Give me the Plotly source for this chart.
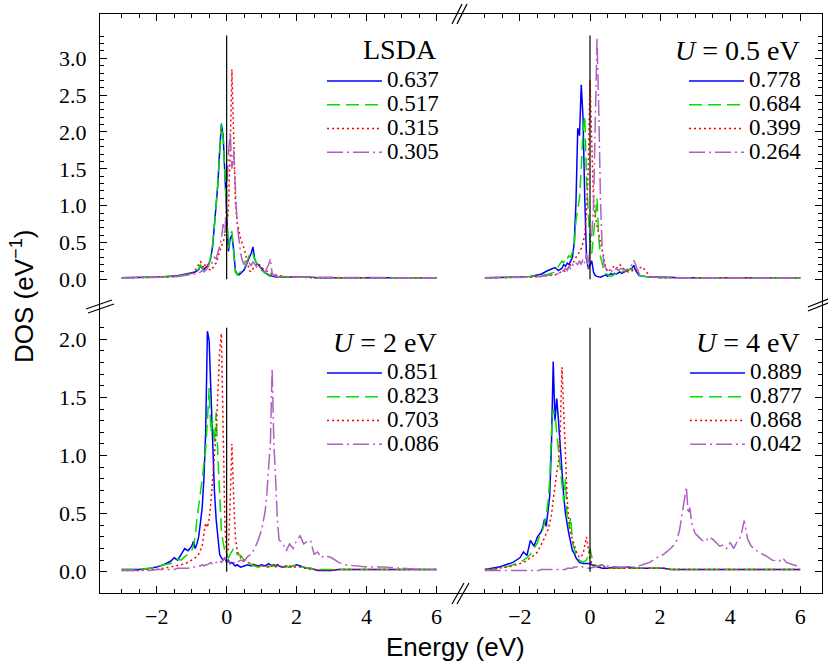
import plotly.graph_objects as go

# ---------------- data ----------------
# energy grid for the two upper panels (eV)
E_TOP = [-3.0, -2.5, -2.0, -1.7, -1.4, -1.2, -1.0, -0.9, -0.8, -0.75,
         -0.7, -0.65, -0.6, -0.55, -0.5, -0.45, -0.4, -0.35, -0.3, -0.25,
         -0.2, -0.15, -0.1, -0.05, 0.0, 0.05, 0.1, 0.15, 0.2, 0.25,
         0.3, 0.35, 0.4, 0.45, 0.5, 0.55, 0.6, 0.65, 0.7, 0.75,
         0.8, 0.85, 0.9, 1.0, 1.1, 1.2, 1.25, 1.3, 1.4, 1.5,
         1.7, 2.0, 2.3, 2.6, 3.0, 3.5, 4.0, 4.5, 5.0, 5.5,
         6.0]

LSDA_LABELS = ["0.637", "0.517", "0.315", "0.305"]
LSDA_1 = [0.02, 0.02, 0.03, 0.04, 0.05, 0.07, 0.09, 0.10, 0.13, 0.19,
          0.15, 0.13, 0.16, 0.18, 0.22, 0.30, 0.45, 0.70, 0.98, 1.30,
          1.75, 2.10, 1.95, 1.48, 1.00, 0.38, 0.55, 0.60, 0.40, 0.12,
          0.07, 0.06, 0.08, 0.10, 0.13, 0.18, 0.25, 0.30, 0.35, 0.44,
          0.28, 0.22, 0.20, 0.14, 0.09, 0.06, 0.05, 0.04, 0.03, 0.03,
          0.03, 0.04, 0.03, 0.02, 0.02, 0.02, 0.02, 0.02, 0.02, 0.02,
          0.02]
LSDA_2 = [0.02, 0.02, 0.03, 0.04, 0.05, 0.06, 0.08, 0.10, 0.14, 0.20,
          0.16, 0.13, 0.15, 0.17, 0.22, 0.32, 0.48, 0.72, 1.00, 1.32,
          1.78, 2.12, 1.90, 1.45, 0.95, 0.42, 0.60, 0.65, 0.38, 0.10,
          0.06, 0.08, 0.10, 0.12, 0.15, 0.20, 0.28, 0.33, 0.30, 0.35,
          0.27, 0.22, 0.18, 0.12, 0.08, 0.05, 0.04, 0.04, 0.03, 0.03,
          0.03, 0.04, 0.03, 0.02, 0.02, 0.02, 0.02, 0.02, 0.02, 0.02,
          0.02]
LSDA_3 = [0.02, 0.02, 0.02, 0.03, 0.04, 0.06, 0.08, 0.12, 0.20, 0.24,
          0.20, 0.15, 0.22, 0.20, 0.14, 0.12, 0.15, 0.20, 0.22, 0.30,
          0.38, 0.45, 0.50, 0.60, 0.70, 0.95, 1.70, 2.85, 1.90, 1.05,
          0.78, 0.65, 0.55, 0.48, 0.42, 0.32, 0.20, 0.12, 0.10, 0.15,
          0.18, 0.20, 0.22, 0.16, 0.12, 0.10, 0.08, 0.07, 0.06, 0.05,
          0.03, 0.03, 0.02, 0.02, 0.02, 0.02, 0.02, 0.02, 0.02, 0.02,
          0.02]
LSDA_4 = [0.02, 0.02, 0.02, 0.03, 0.04, 0.05, 0.06, 0.07, 0.08, 0.10,
          0.12, 0.10, 0.12, 0.15, 0.20, 0.18, 0.25, 0.30, 0.28, 0.35,
          0.45, 0.55, 0.75, 0.60, 1.20, 1.70, 2.00, 1.50, 1.75, 1.20,
          0.75, 0.55, 0.35, 0.25, 0.20, 0.28, 0.20, 0.22, 0.18, 0.24,
          0.20, 0.17, 0.20, 0.12, 0.10, 0.20, 0.28, 0.08, 0.04, 0.03,
          0.03, 0.03, 0.02, 0.02, 0.02, 0.02, 0.02, 0.02, 0.02, 0.02,
          0.02]

U05_LABELS = ["0.778", "0.684", "0.399", "0.264"]
U05_1 = [0.02, 0.02, 0.03, 0.04, 0.07, 0.12, 0.16, 0.12, 0.15, 0.20,
         0.18, 0.22, 0.20, 0.25, 0.30, 0.50, 1.05, 2.05, 1.95, 2.64,
         2.20, 1.10, 0.30, 0.14, 0.20, 0.25, 0.10, 0.05, 0.04, 0.03,
         0.03, 0.04, 0.05, 0.06, 0.04, 0.06, 0.08, 0.06, 0.08, 0.07,
         0.09, 0.10, 0.08, 0.10, 0.12, 0.15, 0.19, 0.12, 0.05, 0.04,
         0.03, 0.03, 0.02, 0.02, 0.02, 0.02, 0.02, 0.02, 0.02, 0.02,
         0.02]
U05_2 = [0.02, 0.02, 0.03, 0.04, 0.05, 0.07, 0.10, 0.18, 0.25, 0.22,
         0.30, 0.28, 0.32, 0.30, 0.38, 0.45, 0.80, 0.95, 1.10, 1.50,
         2.00, 2.22, 1.35, 0.90, 0.50, 0.35, 0.60, 0.90, 1.10, 0.55,
         0.30, 0.22, 0.10, 0.08, 0.06, 0.05, 0.04, 0.05, 0.06, 0.08,
         0.10, 0.12, 0.10, 0.12, 0.13, 0.14, 0.12, 0.10, 0.06, 0.04,
         0.03, 0.02, 0.02, 0.02, 0.02, 0.02, 0.02, 0.02, 0.02, 0.02,
         0.02]
U05_3 = [0.02, 0.02, 0.02, 0.03, 0.04, 0.05, 0.06, 0.08, 0.10, 0.12,
         0.10, 0.14, 0.15, 0.20, 0.22, 0.25, 0.30, 0.32, 0.38, 0.42,
         0.50, 0.60, 0.90, 1.50, 2.70, 1.70, 1.05, 0.85, 0.72, 0.60,
         0.50, 0.40, 0.28, 0.15, 0.10, 0.12, 0.14, 0.16, 0.18, 0.15,
         0.18, 0.20, 0.18, 0.12, 0.10, 0.12, 0.10, 0.12, 0.15, 0.17,
         0.04, 0.02, 0.02, 0.02, 0.02, 0.02, 0.02, 0.02, 0.02, 0.02,
         0.02]
U05_4 = [0.02, 0.02, 0.02, 0.03, 0.04, 0.05, 0.07, 0.08, 0.10, 0.12,
         0.15, 0.12, 0.18, 0.14, 0.20, 0.18, 0.22, 0.20, 0.25, 0.20,
         0.28, 0.22, 0.35, 0.15, 0.45, 0.60, 1.00, 2.20, 3.27, 2.30,
         1.04, 0.40, 0.20, 0.15, 0.12, 0.10, 0.12, 0.10, 0.12, 0.15,
         0.12, 0.14, 0.15, 0.12, 0.15, 0.20, 0.26, 0.20, 0.08, 0.05,
         0.03, 0.03, 0.02, 0.02, 0.02, 0.02, 0.02, 0.02, 0.02, 0.02,
         0.02]

# energy grid for U = 2 eV
E_U2 = [-3.0, -2.5, -2.2, -2.0, -1.8, -1.6, -1.5, -1.4, -1.3, -1.2,
        -1.1, -1.0, -0.95, -0.9, -0.85, -0.8, -0.75, -0.7, -0.65, -0.6,
        -0.55, -0.5, -0.45, -0.4, -0.35, -0.3, -0.25, -0.2, -0.15, -0.1,
        -0.05, 0.0, 0.05, 0.1, 0.15, 0.2, 0.25, 0.3, 0.4, 0.5,
        0.6, 0.7, 0.8, 0.9, 1.0, 1.1, 1.15, 1.2, 1.25, 1.3,
        1.35, 1.4, 1.45, 1.5, 1.6, 1.7, 1.8, 1.9, 2.0, 2.1,
        2.2, 2.3, 2.4, 2.5, 2.6, 2.7, 2.8, 3.0, 3.2, 3.4,
        3.7, 4.0, 4.5, 5.0, 5.5, 6.0]
U2_LABELS = ["0.851", "0.823", "0.703", "0.086"]
U2_1 = [0.02, 0.02, 0.03, 0.04, 0.06, 0.09, 0.12, 0.10, 0.15, 0.20,
        0.18, 0.22, 0.26, 0.20, 0.24, 0.30, 0.42, 0.55, 0.80, 1.20,
        2.07, 1.99, 1.55, 1.10, 0.70, 0.45, 0.30, 0.15, 0.12, 0.10,
        0.12, 0.08, 0.10, 0.07, 0.08, 0.06, 0.05, 0.06, 0.04, 0.05,
        0.06, 0.05, 0.06, 0.05, 0.06, 0.05, 0.06, 0.07, 0.06, 0.05,
        0.06, 0.05, 0.06, 0.05, 0.04, 0.05, 0.04, 0.05, 0.06, 0.05,
        0.04, 0.03, 0.03, 0.02, 0.01, 0.01, 0.01, 0.01, 0.02, 0.02,
        0.02, 0.02, 0.02, 0.02, 0.02, 0.02]
U2_2 = [0.02, 0.02, 0.03, 0.04, 0.06, 0.07, 0.09, 0.11, 0.10, 0.13,
        0.15, 0.18, 0.22, 0.30, 0.45, 0.55, 0.68, 0.80, 0.92, 1.05,
        1.30, 1.58, 1.20, 1.30, 1.10, 1.37, 1.00, 0.65, 0.35, 0.25,
        0.18, 0.15, 0.12, 0.15, 0.18, 0.20, 0.20, 0.15, 0.14, 0.10,
        0.10, 0.06, 0.05, 0.04, 0.05, 0.04, 0.05, 0.04, 0.05, 0.06,
        0.05, 0.04, 0.05, 0.04, 0.04, 0.05, 0.04, 0.05, 0.06, 0.05,
        0.04, 0.03, 0.03, 0.02, 0.02, 0.02, 0.02, 0.02, 0.02, 0.02,
        0.02, 0.02, 0.02, 0.02, 0.02, 0.02]
U2_3 = [0.01, 0.01, 0.02, 0.02, 0.03, 0.04, 0.05, 0.05, 0.06, 0.07,
        0.08, 0.10, 0.11, 0.12, 0.13, 0.15, 0.18, 0.22, 0.33, 0.42,
        0.38, 0.45, 0.60, 0.80, 1.00, 1.20, 1.55, 1.90, 2.05, 1.00,
        0.40, 0.14, 0.20, 0.60, 1.10, 0.65, 0.30, 0.18, 0.12, 0.10,
        0.08, 0.07, 0.06, 0.05, 0.05, 0.05, 0.04, 0.05, 0.04, 0.05,
        0.04, 0.05, 0.04, 0.04, 0.05, 0.04, 0.05, 0.04, 0.04, 0.04,
        0.03, 0.03, 0.02, 0.02, 0.02, 0.01, 0.01, 0.01, 0.02, 0.02,
        0.02, 0.02, 0.02, 0.02, 0.02, 0.02]
U2_4 = [0.01, 0.01, 0.01, 0.02, 0.02, 0.02, 0.02, 0.03, 0.03, 0.03,
        0.03, 0.04, 0.04, 0.04, 0.05, 0.05, 0.05, 0.06, 0.05, 0.06,
        0.06, 0.07, 0.08, 0.06, 0.07, 0.08, 0.09, 0.10, 0.08, 0.10,
        0.12, 0.10, 0.08, 0.07, 0.06, 0.08, 0.07, 0.08, 0.10, 0.09,
        0.13, 0.15, 0.20, 0.27, 0.36, 0.52, 0.67, 0.90, 1.10, 1.75,
        1.10, 0.80, 0.44, 0.27, 0.25, 0.18, 0.24, 0.20, 0.27, 0.31,
        0.24, 0.26, 0.27, 0.15, 0.17, 0.12, 0.14, 0.12, 0.08, 0.06,
        0.05, 0.04, 0.04, 0.03, 0.02, 0.02]

# energy grid for U = 4 eV
E_U4 = [-3.0, -2.8, -2.6, -2.4, -2.2, -2.0, -1.9, -1.8, -1.7, -1.6,
        -1.5, -1.45, -1.4, -1.35, -1.3, -1.25, -1.2, -1.15, -1.1, -1.05,
        -1.0, -0.95, -0.9, -0.85, -0.8, -0.75, -0.7, -0.65, -0.6, -0.55,
        -0.5, -0.45, -0.4, -0.3, -0.2, -0.1, 0.0, 0.1, 0.2, 0.35,
        0.5, 0.7, 0.9, 1.1, 1.3, 1.5, 1.7, 1.9, 2.1, 2.3,
        2.45, 2.55, 2.65, 2.75, 2.8, 2.85, 2.9, 3.0, 3.1, 3.2,
        3.3, 3.4, 3.5, 3.6, 3.7, 3.8, 3.9, 4.0, 4.1, 4.2,
        4.3, 4.4, 4.5, 4.6, 4.8, 5.0, 5.2, 5.4, 5.5, 5.6,
        5.8, 6.0]
U4_LABELS = ["0.889", "0.877", "0.868", "0.042"]
U4_1 = [0.02, 0.03, 0.04, 0.06, 0.08, 0.12, 0.17, 0.14, 0.27, 0.22,
        0.30, 0.32, 0.34, 0.38, 0.45, 0.39, 0.50, 0.65, 1.10, 1.81,
        1.30, 1.49, 1.30, 1.05, 0.85, 0.65, 0.50, 0.40, 0.32, 0.25,
        0.18, 0.16, 0.12, 0.08, 0.07, 0.07, 0.07, 0.05, 0.04, 0.03,
        0.03, 0.04, 0.03, 0.04, 0.03, 0.03, 0.03, 0.03, 0.03, 0.02,
        0.02, 0.02, 0.02, 0.02, 0.02, 0.02, 0.02, 0.02, 0.02, 0.02,
        0.02, 0.02, 0.02, 0.02, 0.02, 0.02, 0.02, 0.02, 0.02, 0.02,
        0.02, 0.02, 0.02, 0.02, 0.02, 0.02, 0.02, 0.02, 0.02, 0.02,
        0.02, 0.02]
U4_2 = [0.02, 0.02, 0.03, 0.04, 0.06, 0.08, 0.10, 0.12, 0.15, 0.20,
        0.25, 0.30, 0.33, 0.36, 0.42, 0.48, 0.60, 0.78, 1.20, 1.40,
        1.35, 1.20, 1.10, 0.95, 0.75, 0.60, 0.80, 0.45, 0.38, 0.47,
        0.25, 0.20, 0.15, 0.10, 0.08, 0.10, 0.20, 0.06, 0.05, 0.06,
        0.03, 0.03, 0.03, 0.03, 0.03, 0.03, 0.03, 0.03, 0.03, 0.02,
        0.02, 0.02, 0.02, 0.02, 0.02, 0.02, 0.02, 0.02, 0.02, 0.02,
        0.02, 0.02, 0.02, 0.02, 0.02, 0.02, 0.02, 0.02, 0.02, 0.02,
        0.02, 0.02, 0.02, 0.02, 0.02, 0.02, 0.02, 0.02, 0.02, 0.02,
        0.02, 0.02]
U4_3 = [0.02, 0.02, 0.03, 0.04, 0.05, 0.07, 0.08, 0.10, 0.12, 0.14,
        0.17, 0.20, 0.22, 0.25, 0.29, 0.33, 0.36, 0.42, 0.49, 0.62,
        0.75, 0.85, 0.95, 1.20, 1.76, 1.40, 0.95, 0.62, 0.42, 0.32,
        0.28, 0.22, 0.18, 0.12, 0.15, 0.30, 0.10, 0.06, 0.05, 0.05,
        0.03, 0.03, 0.03, 0.03, 0.03, 0.03, 0.03, 0.03, 0.03, 0.02,
        0.02, 0.02, 0.02, 0.02, 0.02, 0.02, 0.02, 0.02, 0.02, 0.02,
        0.02, 0.02, 0.02, 0.02, 0.02, 0.02, 0.02, 0.02, 0.02, 0.02,
        0.02, 0.02, 0.02, 0.02, 0.02, 0.02, 0.02, 0.02, 0.02, 0.02,
        0.02, 0.02]
U4_4 = [0.01, 0.01, 0.01, 0.01, 0.01, 0.01, 0.01, 0.01, 0.01, 0.01,
        0.01, 0.01, 0.02, 0.02, 0.02, 0.02, 0.02, 0.02, 0.02, 0.02,
        0.02, 0.02, 0.02, 0.02, 0.02, 0.02, 0.02, 0.03, 0.03, 0.03,
        0.03, 0.04, 0.04, 0.05, 0.04, 0.03, 0.03, 0.04, 0.05, 0.06,
        0.05, 0.04, 0.04, 0.04, 0.04, 0.06, 0.08, 0.12, 0.15, 0.20,
        0.25, 0.35, 0.55, 0.73, 0.50, 0.55, 0.42, 0.33, 0.30, 0.27,
        0.26, 0.30, 0.28, 0.25, 0.22, 0.23, 0.20, 0.25, 0.20, 0.26,
        0.30, 0.44, 0.28, 0.22, 0.17, 0.14, 0.10, 0.09, 0.12, 0.08,
        0.06, 0.04]

PANEL_TITLES = ["LSDA", "<i>U</i> = 0.5 eV", "<i>U</i> = 2 eV", "<i>U</i> = 4 eV"]
X_MAJOR = [-2, 0, 2, 4, 6]
X_MINOR = [-3, -2.5, -1.5, -1, -0.5, 0.5, 1, 1.5, 2.5, 3, 3.5, 4.5, 5, 5.5]
Y_TOP_MAJOR = [0.0, 0.5, 1.0, 1.5, 2.0, 2.5, 3.0]
Y_TOP_LABELS = ["0.0", "0.5", "1.0", "1.5", "2.0", "2.5", "3.0"]
Y_TOP_MINOR = [0.1, 0.2, 0.3, 0.4, 0.6, 0.7, 0.8, 0.9, 1.1, 1.2, 1.3, 1.4,
               1.6, 1.7, 1.8, 1.9, 2.1, 2.2, 2.3, 2.4, 2.6, 2.7, 2.8, 2.9,
               3.1, 3.2, 3.3]
Y_BOT_MAJOR = [0.0, 0.5, 1.0, 1.5, 2.0]
Y_BOT_LABELS = ["0.0", "0.5", "1.0", "1.5", "2.0"]
Y_BOT_MINOR = [0.1, 0.2, 0.3, 0.4, 0.6, 0.7, 0.8, 0.9, 1.1, 1.2, 1.3, 1.4,
               1.6, 1.7, 1.8, 1.9, 2.1]
FERMI_TOP = [0.0, 3.31]
FERMI_BOT = [0.0, 2.10]

# ---------------- geometry / style ----------------
W, H = 828, 668
ML, MR, MT, MB = 100, 6, 14, 75
PW = W - ML - MR
PH = H - MT - MB


def px(x):
    return (x - ML) / PW


def py(y):
    return (H - MB - y) / PH


XB = px(460)
YB = py(306)

COLORS = ["#0000FF", "#00E000", "#FF0000", "#B060C0"]
DASHES = ["solid", "13px,6px", "2px,3px", "16px,4px,2px,4px"]
SERIF = "Liberation Serif"
SANS = "Liberation Sans"
LEG_TEXT = '<span style="font-size:23px">{}</span>'

panels = [
    (E_TOP, [LSDA_1, LSDA_2, LSDA_3, LSDA_4], LSDA_LABELS, "x", "y", "legend"),
    (E_TOP, [U05_1, U05_2, U05_3, U05_4], U05_LABELS, "x2", "y2", "legend2"),
    (E_U2, [U2_1, U2_2, U2_3, U2_4], U2_LABELS, "x3", "y3", "legend3"),
    (E_U4, [U4_1, U4_2, U4_3, U4_4], U4_LABELS, "x4", "y4", "legend4"),
]

fig = go.Figure()
for energy, series, labels, xa, ya, lg in panels:
    for k, (dos, lab) in enumerate(zip(series, labels)):
        fig.add_trace(go.Scatter(
            x=energy, y=dos, name=LEG_TEXT.format(lab), mode="lines",
            xaxis=xa, yaxis=ya, legend=lg,
            line=dict(color=COLORS[k], width=1.5, dash=DASHES[k]),
        ))

tickfont = dict(family=SERIF, size=22, color="black")


def xax(domain, rng, anchor, side, labels):
    return dict(domain=domain, range=rng, anchor=anchor, side=side,
                showline=True, linecolor="black", linewidth=1.3,
                showgrid=False, zeroline=False,
                tickmode="array", tickvals=X_MAJOR,
                ticks="inside", ticklen=7, tickwidth=1, tickcolor="black",
                minor=dict(tickmode="array", tickvals=X_MINOR, ticks="inside",
                           ticklen=4, tickwidth=1, tickcolor="black", showgrid=False),
                showticklabels=labels, tickfont=tickfont, ticklabelstandoff=3)


def yax(domain, rng, anchor, side, labels, major, text, minor):
    return dict(domain=domain, range=rng, anchor=anchor, side=side,
                showline=True, linecolor="black", linewidth=1.3,
                showgrid=False, zeroline=False,
                tickmode="array", tickvals=major, ticktext=text,
                ticks="inside", ticklen=7, tickwidth=1, tickcolor="black",
                minor=dict(tickmode="array", tickvals=minor, ticks="inside",
                           ticklen=4, tickwidth=1, tickcolor="black", showgrid=False),
                showticklabels=labels, tickfont=tickfont, ticklabelstandoff=8)


XL = [-3.62, 6.67]
XR = [-3.71, 6.62]
YT = [-0.362, 3.601]
YBR = [-0.183, 2.287]

fig.update_layout(
    xaxis=xax([0, XB], XL, "y", "top", False),
    xaxis2=xax([XB, 1], XR, "y2", "top", False),
    xaxis3=xax([0, XB], XL, "y3", "bottom", True),
    xaxis4=xax([XB, 1], XR, "y4", "bottom", True),
    yaxis=yax([YB, 1], YT, "x", "left", True, Y_TOP_MAJOR, Y_TOP_LABELS, Y_TOP_MINOR),
    yaxis2=yax([YB, 1], YT, "x2", "right", False, Y_TOP_MAJOR, Y_TOP_LABELS, Y_TOP_MINOR),
    yaxis3=yax([0, YB], YBR, "x3", "left", True, Y_BOT_MAJOR, Y_BOT_LABELS, Y_BOT_MINOR),
    yaxis4=yax([0, YB], YBR, "x4", "right", False, Y_BOT_MAJOR, Y_BOT_LABELS, Y_BOT_MINOR),
)

# legends (one per panel)
leg_common = dict(xanchor="right", yanchor="top", bgcolor="rgba(0,0,0,0)",
                  borderwidth=0, itemwidth=55,
                  font=dict(family=SERIF, size=16, color="black"))
fig.update_layout(
    legend=dict(x=px(444), y=py(64), **leg_common),
    legend2=dict(x=px(807), y=py(64), **leg_common),
    legend3=dict(x=px(444), y=py(356), **leg_common),
    legend4=dict(x=px(807), y=py(356), **leg_common),
)

# Fermi level lines
shapes = []
for xa, ya, ext in [("x", "y", FERMI_TOP), ("x2", "y2", FERMI_TOP),
                    ("x3", "y3", FERMI_BOT), ("x4", "y4", FERMI_BOT)]:
    shapes.append(dict(type="line", xref=xa, yref=ya, x0=0, x1=0, y0=ext[0], y1=ext[1],
                       line=dict(color="black", width=1.2), layer="above"))


# axis-break marks (paper coordinates)
def seg(x0, y0, x1, y1):
    return dict(type="line", xref="paper", yref="paper",
                x0=px(x0), y0=py(y0), x1=px(x1), y1=py(y1),
                line=dict(color="black", width=1.2))


shapes += [seg(86, 309, 112, 300), seg(88, 313, 114, 304),
           seg(808, 311, 828, 303), seg(808, 307, 828, 299),
           seg(452, 24, 462, 4), seg(457, 24, 467, 4),
           seg(452, 604, 464, 583), seg(457, 604, 469, 583)]

annotations = []
title_pos = [(439, 49), (802, 50), (439, 342), (802, 342)]
for t, (tx, ty) in zip(PANEL_TITLES, title_pos):
    annotations.append(dict(text=t, xref="paper", yref="paper", x=px(tx), y=py(ty),
                            xanchor="right", yanchor="middle", showarrow=False,
                            font=dict(family=SERIF, size=28, color="black")))
annotations.append(dict(text="DOS (eV<sup>−1</sup>)", xref="paper", yref="paper",
                        x=px(22), y=py(297), textangle=-90, showarrow=False,
                        xanchor="center", yanchor="middle",
                        font=dict(family=SANS, size=26, color="black")))
annotations.append(dict(text="Energy (eV)", xref="paper", yref="paper",
                        x=px(455), y=py(647), showarrow=False,
                        xanchor="center", yanchor="middle",
                        font=dict(family=SANS, size=26, color="black")))

fig.update_layout(
    width=W, height=H,
    margin=dict(l=ML, r=MR, t=MT, b=MB),
    paper_bgcolor="white", plot_bgcolor="white",
    shapes=shapes, annotations=annotations,
    showlegend=True,
)

fig.write_html("out.html", config={"displayModeBar": False},
               post_script="document.body.style.margin='0';document.body.style.overflow='hidden';")
